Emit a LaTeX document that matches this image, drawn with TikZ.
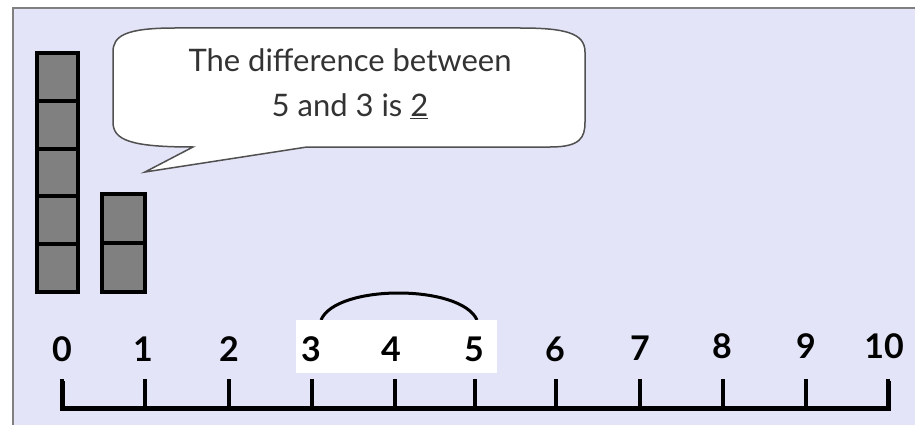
\documentclass[tikz,border=0pt]{standalone}
\usepackage{fontspec}
\setmainfont{Lato}
\newfontfamily\numfont{Lato}
\definecolor{panelbg}{HTML}{E4E4F8}
\definecolor{panelline}{HTML}{808080}
\definecolor{cubefill}{HTML}{808080}
\definecolor{bubbleline}{HTML}{505050}
\definecolor{txt}{HTML}{333333}
\tikzset{
  cube/.style={draw=black, fill=cubefill, line width=4pt},
  numlabel/.style={anchor=base, font=\numfont\bfseries\fontsize{34}{34}\selectfont, inner sep=0pt},
  tick/.style={line width=4pt, line cap=butt},
}
\begin{document}
\begin{tikzpicture}[x=1pt,y=-1pt]
\clip (0,0) rectangle (915,425);
\fill[white] (0,0) rectangle (915,425);
\draw[panelline, fill=panelbg, line width=2pt] (12.5,8.5) rectangle (940,450);
% cubes
\foreach \i in {0,...,4} {
  \draw[cube] (37,{53+\i*47.8}) rectangle (78,{53+(\i+1)*47.8});
}
\foreach \i in {0,1} {
  \draw[cube] (102,{194+\i*49}) rectangle (145,{194+(\i+1)*49});
}
% speech bubble
\draw[bubbleline, fill=white, line width=1.5pt]
  (193,147) -- (145,172) -- (307,147) -- (550,147)
  .. controls (580,147) and (585,138) .. (585,122) -- (585,52)
  .. controls (585,33) and (565,28) .. (520,28) -- (175,28)
  .. controls (125,28) and (113,36) .. (113,52) -- (113,122)
  .. controls (113,140) and (130,147) .. (193,147) -- cycle;
\node[txt, font=\fontsize{31}{46}\selectfont, align=center, anchor=base] (t1) at (350,72) {The difference between};
\node[txt, font=\fontsize{31}{46}\selectfont, anchor=base] (t2) at (350,117) {5 and 3 is \underline{2}};
% white box and arc
\draw[black, line width=3pt] (321,320) .. controls (336,284) and (461,284) .. (477,320);
\fill[white] (296,320) rectangle (497,373);
% number line
\coordinate (L) at (62,408);
\coordinate (R) at (888,408);
\draw[line width=5pt, line cap=butt, line join=miter] (62,381) -- (L) -- (R) -- (888,381);
\foreach \x/\n in {62/0,145/1,229/2,312/3,395/4,475/5,556/6,640/7,723/8,806/9,888/10} {
  \draw[tick] (\x,379) -- (\x,408);
}
\foreach \x/\n/\b in {62/0/361,143/1/361,229/2/361,311/3/361,391/4/361,474/5/361,555/6/361,640/7/360,722/8/358,806/9/358,884/10/358} {
  \node[numlabel] (n\n) at (\x,\b) {\n};
}
\end{tikzpicture}
\end{document}
